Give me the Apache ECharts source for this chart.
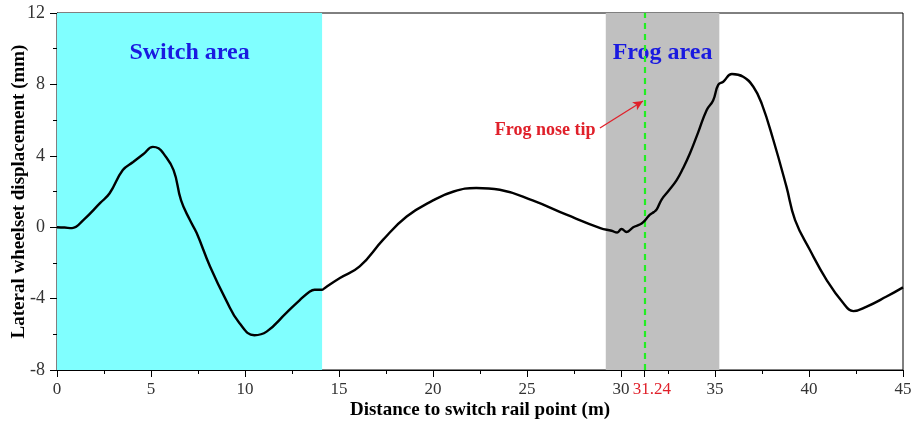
<!DOCTYPE html>
<html>
<head>
<meta charset="utf-8">
<script src="https://cdn.jsdelivr.net/npm/echarts@6/dist/echarts.min.js"></script>
<style>
  html, body { margin: 0; padding: 0; background: #fff; }
  #main { width: 912px; height: 423px; }
</style>
</head>
<body>
<div id="main"></div>
<script>
// distance to switch rail point (m)
var distance = [0, 0.4, 0.8, 1.4, 2.3, 2.8, 3.5, 4.05, 4.6, 5.1, 5.4, 5.65, 6.2, 6.6, 7.07,
  7.43, 8.14, 9.0, 9.7, 10.5, 11.15, 12.2, 12.9, 13.45, 13.7, 14.1, 14.25, 15.05, 16.1,
  17.35, 18.6, 20.0, 21.1, 22.3, 23.55, 25.3, 27.1, 28.9, 29.5, 29.8, 30.03, 30.3, 30.65,
  31.0, 31.2, 31.37, 31.54, 31.75, 31.9, 32.16, 32.5, 32.96, 33.3, 33.67, 34.1, 34.56,
  34.9, 35.17, 35.44, 35.9, 36.5, 37.04, 37.48, 38.1, 38.8, 39.26, 40.05, 40.94, 41.83,
  42.36, 43.07, 44.1, 45];
// lateral wheelset displacement (mm)
var displacement = [0, -0.02, -0.05, 0.4, 1.36, 1.9, 3.2, 3.65, 4.1, 4.5, 4.42, 4.15, 3.2, 1.5, 0.4,
  -0.33, -2.2, -4.1, -5.37, -6.05, -5.85, -4.8, -4.1, -3.6, -3.5, -3.5, -3.4, -2.85, -2.2,
  -0.7, 0.6, 1.5, 2.0, 2.2, 2.1, 1.5, 0.7, -0.05, -0.2, -0.3, -0.1, -0.27, 0.0,
  0.15, 0.3, 0.5, 0.7, 0.85, 1.0, 1.55, 2.0, 2.64, 3.3, 4.14, 5.3, 6.57,
  7.1, 7.97, 8.15, 8.58, 8.43, 7.87, 6.94, 4.9, 2.27, 0.4, -1.28, -2.96, -4.26,
  -4.7, -4.45, -3.9, -3.37];

var switchArea = [0, 14.1];
var frogArea = [29.19, 35.23];
var frogNoseTip = 31.24;
var arrowFrom = [28.88, 5.56];
var arrowTo = [31.17, 7.07];
var noteAt = [28.75, 5.4];

var serif = '"Liberation Serif", "Times New Roman", serif';

var chartDom = document.getElementById('main');
var myChart = echarts.init(chartDom);
var option;

option = {
  animation: false,
  grid: {
    left: 57,
    right: 9,
    top: 13,
    bottom: 53,
    outerBoundsMode: 'none',
    show: true,
    borderColor: '#000',
    borderWidth: 1
  },
  xAxis: [
    {
      type: 'value',
      min: 0,
      max: 45,
      interval: 5,
      name: 'Distance to switch rail point (m)',
      nameLocation: 'middle',
      nameGap: 31,
      nameMoveOverlap: false,
      nameTextStyle: { fontFamily: serif, fontWeight: 'bold', fontSize: 19, color: '#000' },
      axisLine: { show: true, onZero: false, lineStyle: { color: '#000', width: 1 } },
      axisTick: { show: true, length: 7, lineStyle: { color: '#000' } },
      minorTick: { show: true, splitNumber: 2, length: 4, lineStyle: { color: '#000' } },
      axisLabel: { fontFamily: serif, fontSize: 17, color: '#333', margin: 11 },
      splitLine: { show: false }
    },
    {
      // red label for the frog nose tip position
      type: 'value',
      min: 0,
      max: 45,
      position: 'bottom',
      axisLine: { show: false, onZero: false },
      axisTick: { show: true, customValues: [frogNoseTip], length: 7, lineStyle: { color: '#000' } },
      axisLabel: {
        customValues: [frogNoseTip],
        fontFamily: serif,
        fontSize: 17,
        color: '#e0202a',
        margin: 11,
        padding: [0, 0, 0, 15],
        formatter: function (v) { return v.toFixed(2); }
      },
      splitLine: { show: false }
    }
  ],
  yAxis: {
    type: 'value',
    min: -8,
    max: 12,
    interval: 4,
    name: 'Lateral wheelset displacement (mm)',
    nameLocation: 'middle',
    nameGap: 28,
    nameMoveOverlap: false,
    nameTextStyle: { fontFamily: serif, fontWeight: 'bold', fontSize: 19, color: '#000' },
    axisLine: { show: true, onZero: false, lineStyle: { color: '#000', width: 1 } },
    axisTick: { show: true, length: 7, lineStyle: { color: '#000' } },
    minorTick: { show: true, splitNumber: 2, length: 4, lineStyle: { color: '#000' } },
    axisLabel: { fontFamily: serif, fontSize: 18, color: '#333', margin: 12 },
    splitLine: { show: false }
  },
  series: [
    {
      type: 'line',
      data: distance.map(function (d, i) { return [d, displacement[i]]; }),
      showSymbol: false,
      smooth: 0.45,
      lineStyle: { color: '#000', width: 2.4 },
      z: 5,
      markArea: {
        silent: true,
        label: {
          show: true,
          position: 'insideTop',
          distance: 28,
          fontFamily: serif,
          fontWeight: 'bold',
          fontSize: 24,
          color: '#1a1ae0'
        },
        data: [
          [
            { name: 'Switch area', xAxis: switchArea[0], itemStyle: { color: '#80ffff' } },
            { xAxis: switchArea[1] }
          ],
          [
            { name: 'Frog area', xAxis: frogArea[0], itemStyle: { color: '#c0c0c0' } },
            { xAxis: frogArea[1] }
          ]
        ]
      }
    },
    {
      // frog nose tip: dashed marker line, arrow and note
      type: 'line',
      data: [],
      z: 6,
      markLine: {
        silent: true,
        animation: false,
        symbol: 'none',
        data: [
          {
            xAxis: frogNoseTip,
            label: { show: false },
            lineStyle: { color: '#22ee22', type: [6, 5], width: 2.2 }
          },
          [
            { coord: arrowFrom, symbol: 'none' },
            {
              coord: arrowTo,
              symbol: 'arrow',
              symbolSize: [7, 10],
              label: { show: false },
              lineStyle: { color: '#e0202a', type: 'solid', width: 1.3 }
            }
          ]
        ],
        lineStyle: { color: '#e0202a', type: 'solid', width: 1.3 },
        label: { show: false }
      },
      markPoint: {
        silent: true,
        symbol: 'circle',
        symbolSize: 0,
        data: [{ coord: noteAt, value: 'Frog nose tip' }],
        label: {
          show: true,
          position: 'left',
          distance: 2,
          formatter: 'Frog nose tip',
          fontFamily: serif,
          fontWeight: 'bold',
          fontSize: 18,
          color: '#e0202a'
        }
      }
    }
  ]
};

option && myChart.setOption(option);
</script>
</body>
</html>
